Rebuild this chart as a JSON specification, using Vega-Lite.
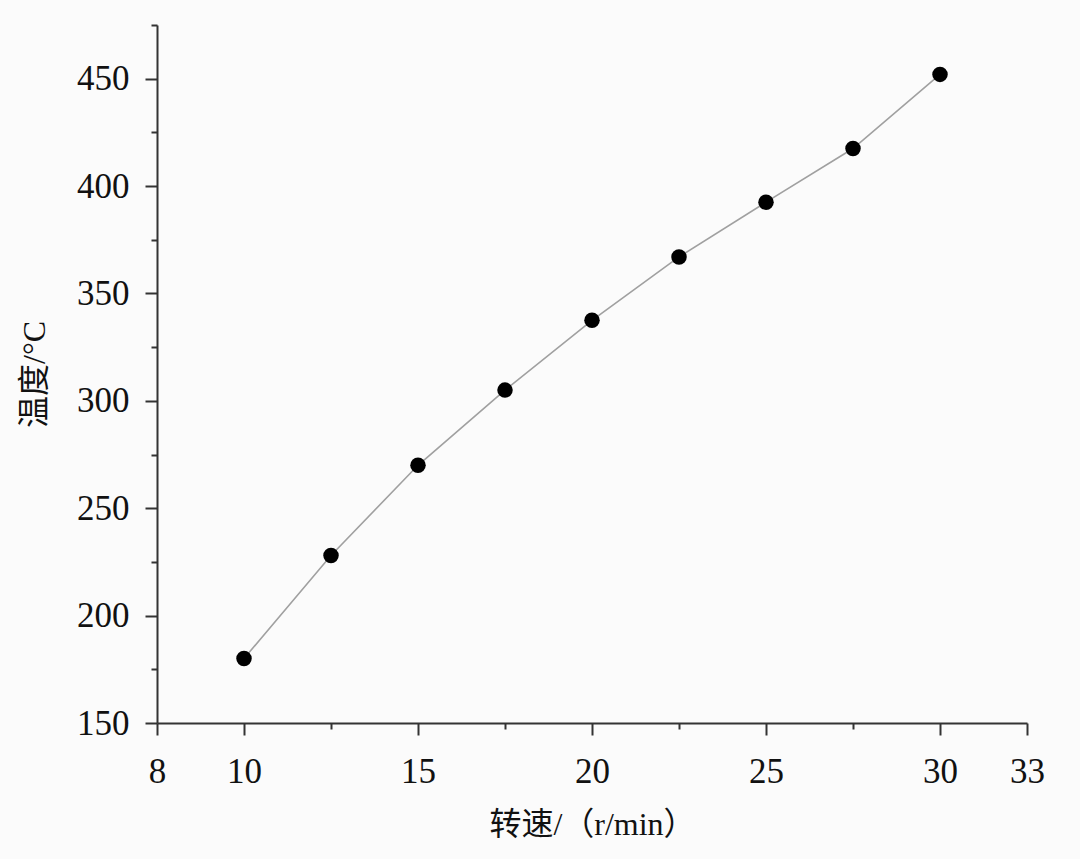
{
  "$schema": "https://vega.github.io/schema/vega-lite/v6.json",
  "width": 870,
  "height": 698,
  "autosize": "none",
  "padding": {"left": 157, "top": 25, "right": 53, "bottom": 136},
  "background": "#fbfbfb",
  "config": {
    "view": {"stroke": null},
    "axis": {
      "labelFont": "Liberation Serif",
      "titleFont": "Liberation Serif, Noto Sans CJK SC",
      "labelFontSize": 35,
      "titleFontSize": 32,
      "titleFontWeight": "normal",
      "labelColor": "#111",
      "titleColor": "#111",
      "domainColor": "#333",
      "tickColor": "#333",
      "domainWidth": 2,
      "tickWidth": 2,
      "grid": false
    }
  },
  "data": {
    "values": [
      {"speed": 10, "temp": 180},
      {"speed": 12.5, "temp": 228},
      {"speed": 15, "temp": 270},
      {"speed": 17.5, "temp": 305},
      {"speed": 20, "temp": 337.5},
      {"speed": 22.5, "temp": 367},
      {"speed": 25, "temp": 392.5},
      {"speed": 27.5, "temp": 417.5},
      {"speed": 30, "temp": 452}
    ]
  },
  "layer": [
    {
      "mark": {"type": "line", "color": "#a0a0a0", "strokeWidth": 1.6},
      "encoding": {
        "x": {
          "field": "speed", "type": "quantitative",
          "scale": {"domain": [7.5, 32.5], "nice": false, "zero": false},
          "axis": {"values": [7.5, 10, 15, 20, 25, 30, 32.5], "labelExpr": "datum.value == 7.5 ? '8' : datum.value == 32.5 ? '33' : datum.label", "tickSize": 12, "labelPadding": 19, "title": "转速/（r/min）", "titlePadding": 20, "labelFlush": false}
        },
        "y": {
          "field": "temp", "type": "quantitative",
          "scale": {"domain": [150, 475], "nice": false, "zero": false},
          "axis": {"values": [150, 200, 250, 300, 350, 400, 450], "tickSize": 12, "labelPadding": 16, "title": "温度/°C", "titlePadding": 25, "labelFlush": false}
        }
      }
    },
    {
      "mark": {"type": "point", "filled": true, "color": "#000", "size": 240, "opacity": 1},
      "encoding": {
        "x": {
          "field": "speed", "type": "quantitative",
          "scale": {"domain": [7.5, 32.5], "nice": false, "zero": false},
          "axis": {"values": [12.5, 17.5, 22.5, 27.5], "tickSize": 6, "labels": false, "domain": false, "title": null, "orient": "bottom"}
        },
        "y": {
          "field": "temp", "type": "quantitative",
          "scale": {"domain": [150, 475], "nice": false, "zero": false},
          "axis": {"values": [175, 225, 275, 325, 375, 425, 475], "tickSize": 6, "labels": false, "domain": false, "title": null, "orient": "left"}
        }
      }
    }
  ],
  "resolve": {"axis": {"x": "independent", "y": "independent"}}
}
